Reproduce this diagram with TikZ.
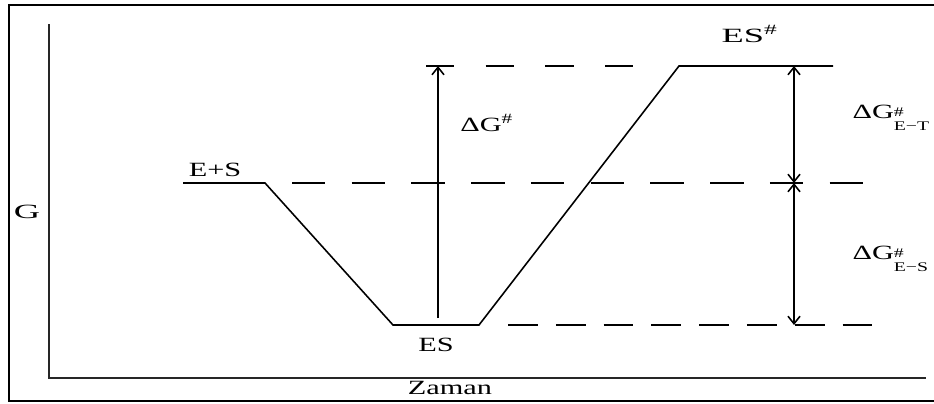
\documentclass[tikz,border=0pt]{standalone}
\usepackage{fontspec}
\setmainfont{Liberation Serif}
\usetikzlibrary{arrows.meta}

\newcommand{\gapsub}[1]{\raisebox{-1.3ex}{\fontsize{7.5}{9}\selectfont\shortstack[l]{\#\\#1}}}

\begin{document}
\begin{tikzpicture}[x=0.02cm,y=-0.02cm,
      >={Straight Barb[length=1.5mm,width=2.4mm,line width=0.9pt]},
      lbl/.style={font=\fontsize{11.5}{13}\selectfont,inner sep=0pt,xscale=1.5},
      narrow/.style={xscale=1.2},
      level/.style={draw=black,line width=0.9pt},
      axis/.style={draw=black!85,line width=1.1pt},
      gap/.style={draw=black,line width=0.9pt},
      top gap/.style={gap,dash pattern=on 16pt off 18pt},
      mid gap/.style={gap,dash pattern=on 19pt off 15pt},
      low gap/.style={gap,dash pattern=on 17pt off 10.2pt},
      span/.style={draw=black,line width=1pt}
    ]
    \useasboundingbox (0,0) rectangle (934,403);
    \draw[line width=1.3pt] (9,5) rectangle (960,401);
    % axes
    \coordinate (yt) at (49,24);
    \coordinate (o) at (49,378);
    \coordinate (xr) at (926,378);
    \draw[axis] (yt) -- (o) -- (xr);
    \node[lbl,narrow] (g) at (27,212) {G};
    \node[lbl] (zaman) at (450,388) {Zaman};
    % free energy profile
    \coordinate (es0) at (183,183);
    \coordinate (es1) at (265,183);
    \coordinate (c0) at (393,325);
    \coordinate (c1) at (479,325);
    \coordinate (t0) at (679,66);
    \coordinate (t1) at (833,66);
    \draw[level] (es0) -- (es1) -- (c0) -- (c1) -- (t0) -- (t1);
    \node[lbl] (lES) at (215,170) {E+S};
    \node[lbl] (lC) at (436,345) {ES};
    \node[lbl,narrow] (lT) at (750,34) {ES\textsuperscript{\#}};
    % dashed reference levels
    \coordinate (d0) at (426,66);
    \coordinate (d1) at (640,66);
    \coordinate (d2) at (292,183);
    \coordinate (d3) at (878,183);
    \coordinate (d4) at (508,325);
    \coordinate (d5) at (872,325);
    \draw[top gap] (d0) -- (d1);
    \draw[mid gap] (d2) -- (d3);
    \draw[low gap] (d4) -- (d5);
    % barriers
    \coordinate (a0) at (438,318);
    \coordinate (a1) at (438,66);
    \draw[span,->] (a0) -- (a1);
    \node[lbl] (dG) at (487,123) {ΔG\textsuperscript{\#}};
    \coordinate (b0) at (794,66);
    \coordinate (b1) at (794,183);
    \coordinate (b2) at (794,325);
    \draw[span,<->] (b0) -- (b1);
    \draw[span,<->] (b1) -- (b2);
    \node[lbl,anchor=west] (dGT) at (852,118) {ΔG\gapsub{E−T}};
    \node[lbl,anchor=west] (dGS) at (852,259) {ΔG\gapsub{E−S}};
  \end{tikzpicture}
\end{document}
